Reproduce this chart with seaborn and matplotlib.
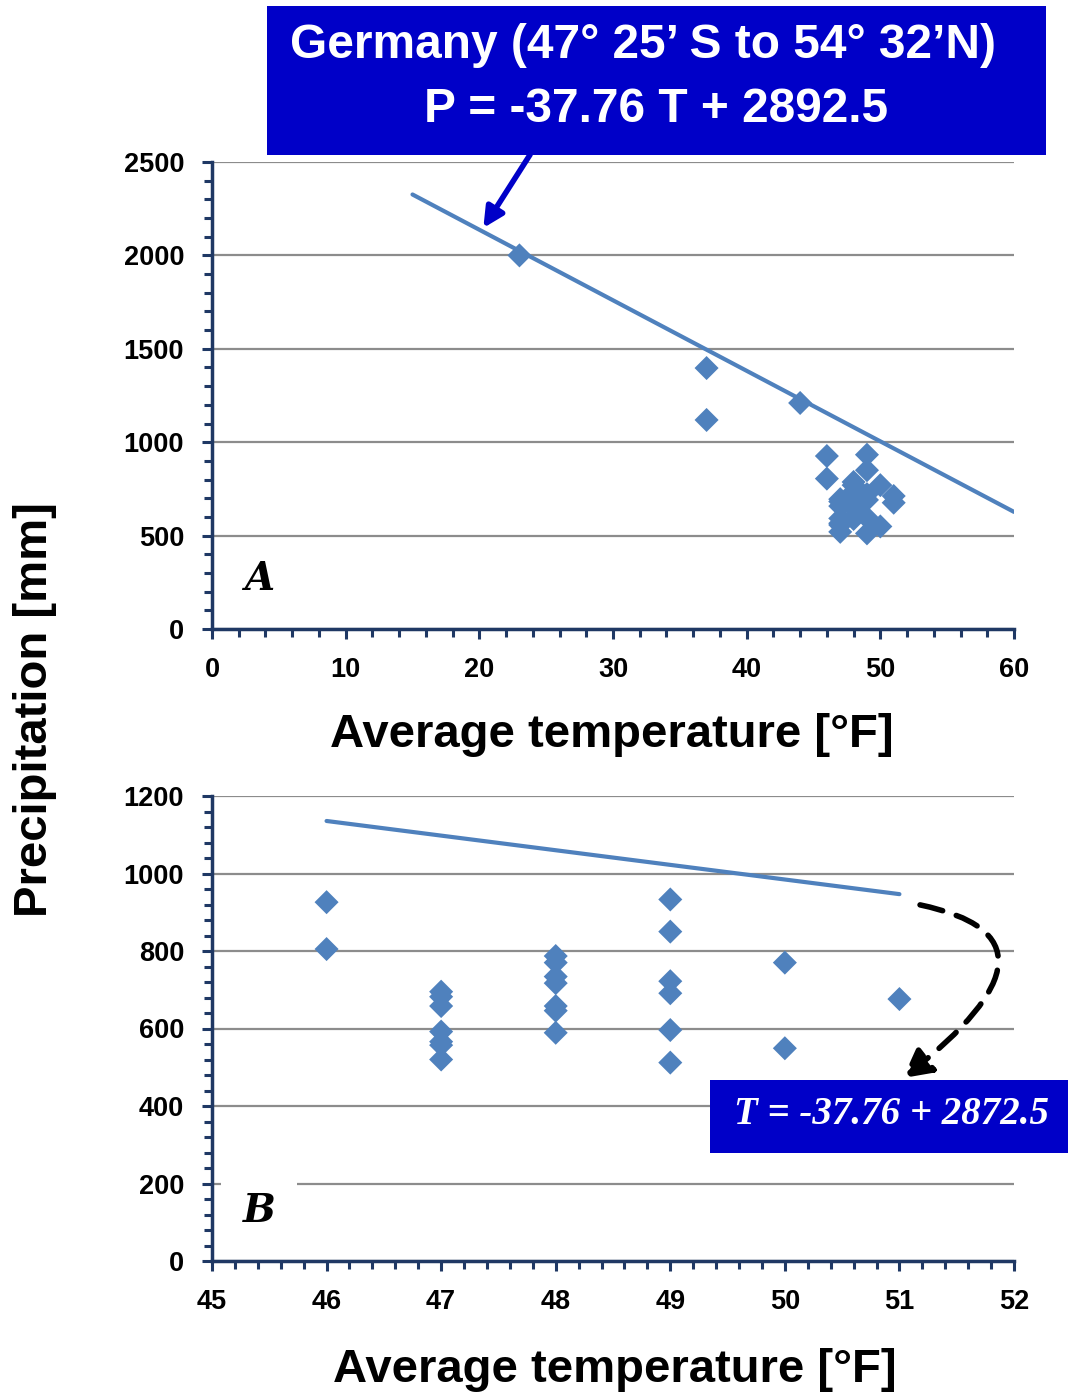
import matplotlib
matplotlib.use("Agg")
import matplotlib.pyplot as plt
from matplotlib.patches import Rectangle, FancyArrowPatch
from matplotlib.path import Path
from matplotlib.ticker import MultipleLocator
import numpy as np
import pandas as pd
import seaborn as sns

# Station data: average temperature [°F] and annual precipitation [mm]
cluster_temp = [46, 46,
                47, 47, 47, 47, 47, 47, 47,
                48, 48, 48, 48, 48, 48, 48,
                49, 49, 49, 49, 49, 49,
                50, 50,
                51]
cluster_precip = [926, 805,
                  695, 682, 658, 592, 566, 557, 520,
                  787, 770, 734, 717, 658, 646, 589,
                  933, 850, 722, 691, 596, 512,
                  770, 549,
                  676]
# Additional stations shown only in the full-range panel
extra_temp = [23, 37, 37, 44, 51]
extra_precip = [2000, 1397, 1119, 1210, 712]

# Regression line coefficients
slope = -37.76
intercept_a = 2892.5
intercept_b = 2872.5
line_a_temp = [15, 60]
line_b_temp = [46, 51]

df_a = pd.DataFrame({"T": extra_temp + cluster_temp, "P": extra_precip + cluster_precip})
df_b = pd.DataFrame({"T": cluster_temp, "P": cluster_precip})
line_a = pd.DataFrame({"T": line_a_temp, "P": [slope * t + intercept_a for t in line_a_temp]})
line_b = pd.DataFrame({"T": line_b_temp, "P": [slope * t + intercept_b for t in line_b_temp]})

sns.set_theme(style="white")
plt.rcParams["font.family"] = ["Liberation Sans", "DejaVu Sans"]
plt.rcParams["text.color"] = "black"
plt.rcParams["xtick.color"] = "black"
plt.rcParams["ytick.color"] = "black"

W, H = 1068, 1397
fig = plt.figure(figsize=(W / 100, H / 100), dpi=100)

BLUE = "#4F81BD"
NAVY = "#1F3864"
BOX = "#0000C8"
GRID = "#8C8C8C"


def px_rect(x0, y0, x1, y1):
    return [x0 / W, 1 - y1 / H, (x1 - x0) / W, (y1 - y0) / H]


def fx(px):
    return px / W


def fy(py):
    return 1 - py / H


ax_a = fig.add_axes(px_rect(212, 162, 1014, 629))
ax_b = fig.add_axes(px_rect(212, 796, 1014, 1261))


def style_axes(ax, xlim, ylim, xmaj, xmin, ymaj, ymin):
    ax.set_xlim(*xlim)
    ax.set_ylim(*ylim)
    ax.xaxis.set_major_locator(MultipleLocator(xmaj))
    ax.xaxis.set_minor_locator(MultipleLocator(xmin))
    ax.yaxis.set_major_locator(MultipleLocator(ymaj))
    ax.yaxis.set_minor_locator(MultipleLocator(ymin))
    for s in ("top", "right"):
        ax.spines[s].set_visible(False)
    for s in ("left", "bottom"):
        ax.spines[s].set_color(NAVY)
        ax.spines[s].set_linewidth(2.5)
    ax.tick_params(which="both", direction="out", color=NAVY, width=2.2,
                   left=True, bottom=True, labelcolor="black")
    ax.tick_params(which="major", length=7, labelsize=19.5, pad=13)
    ax.tick_params(which="minor", length=6)
    for lab in ax.get_xticklabels() + ax.get_yticklabels():
        lab.set_fontweight("bold")
    ax.yaxis.grid(True, which="major", color=GRID, linewidth=1.6)
    ax.xaxis.grid(False)
    ax.set_axisbelow(True)
    ax.set_xlabel("")
    ax.set_ylabel("")


# Panel A: full temperature range
sns.lineplot(data=line_a, x="T", y="P", ax=ax_a, color=BLUE, linewidth=3)
sns.scatterplot(data=df_a, x="T", y="P", ax=ax_a, marker="D", s=150,
                color=BLUE, edgecolor="none", zorder=3)
style_axes(ax_a, (0, 60), (0, 2500), 10, 2, 500, 100)
ax_a.text(3.5, 270, "A", fontsize=28, fontweight="bold", fontstyle="italic",
          family=["DejaVu Serif"], ha="center", va="center")

# Panel B: zoom on the 45-52 °F cluster
sns.lineplot(data=line_b, x="T", y="P", ax=ax_b, color=BLUE, linewidth=3)
sns.scatterplot(data=df_b, x="T", y="P", ax=ax_b, marker="D", s=150,
                color=BLUE, edgecolor="none", zorder=3)
style_axes(ax_b, (45, 52), (0, 1200), 1, 0.2, 200, 40)
ax_b.text(45.41, 130, "B", fontsize=28, fontweight="bold", fontstyle="italic",
          family=["DejaVu Serif"], ha="center", va="center",
          bbox=dict(boxstyle="square,pad=0.55", fc="white", ec="none"), zorder=4)

# Axis titles
fig.text(fx(612), fy(735), "Average temperature [°F]", fontsize=34,
         fontweight="bold", ha="center", va="center")
fig.text(fx(615), fy(1370), "Average temperature [°F]", fontsize=34,
         fontweight="bold", ha="center", va="center")
fig.text(fx(35), fy(710), "Precipitation [mm]", fontsize=34,
         fontweight="bold", ha="center", va="center", rotation=90)

# Equation boxes
fig.patches.append(Rectangle((fx(267), fy(155)), (1046 - 267) / W, (155 - 6) / H,
                             transform=fig.transFigure, fc=BOX, ec="none", zorder=5))
fig.text(fx(643), fy(46), "Germany (47° 25’ S to 54° 32’N)",
         fontsize=34.5, fontweight="bold", color="white", ha="center", va="center",
         zorder=6)
fig.text(fx(656), fy(110), "P = -37.76 T + 2892.5",
         fontsize=34.5, fontweight="bold", color="white", ha="center", va="center",
         zorder=6)

fig.patches.append(Rectangle((fx(710), fy(1153)), (1068 - 710) / W, (1153 - 1080) / H,
                             transform=fig.transFigure, fc=BOX, ec="none", zorder=5))
fig.text(fx(892), fy(1115), "T = -37.76 + 2872.5", fontsize=28,
         fontweight="bold", fontstyle="italic", color="white",
         family=["Liberation Serif"], ha="center", va="center", zorder=6)

# Arrow from the equation box to the regression line in panel A
ax_a.annotate("", xy=(20.3, 2147), xytext=(23.8, 2540),
              arrowprops=dict(arrowstyle="-|>,head_length=1.0,head_width=0.5",
                              color=BOX, lw=4, shrinkA=0, shrinkB=0),
              annotation_clip=False)

# Dashed curved arrow from the panel B line to its equation
curve = Path([(51.18, 919), (52.6, 832), (51.03, 472)],
             [Path.MOVETO, Path.CURVE3, Path.CURVE3])
arr = FancyArrowPatch(path=curve,
                      arrowstyle="-|>,head_length=17,head_width=9",
                      color="black", lw=4, linestyle=(0, (4.2, 2.6)),
                      clip_on=False, zorder=6)
ax_b.add_patch(arr)

fig.savefig("out.png", dpi=100)
